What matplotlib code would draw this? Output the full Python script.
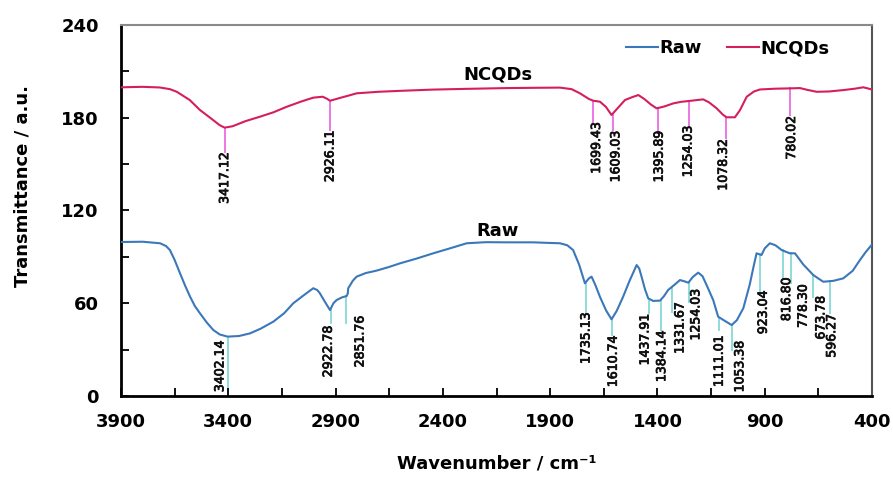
import matplotlib
matplotlib.use("Agg")
import matplotlib.pyplot as plt
import matplotlib.patheffects as pe
import numpy as np

ncqd_wn = [3900, 3800, 3720, 3672, 3640, 3580, 3532, 3480, 3440, 3417, 3380, 3320,
           3252, 3190, 3128, 3060, 3004, 2960, 2940, 2926, 2900, 2870, 2848, 2802,
           2700, 2600, 2450, 2289, 2100, 1950, 1854, 1800, 1761, 1720, 1699, 1668,
           1640, 1614, 1590, 1551, 1520, 1489, 1460, 1430, 1404, 1370, 1326, 1290,
           1256, 1187, 1160, 1124, 1095, 1078, 1039, 1015, 984, 950, 922, 850, 783,
           736, 700, 658, 600, 534, 480, 441, 420, 402]
ncqd_t = [199.7, 200.0, 199.6, 198.5, 196.8, 191.5, 185.0, 179.5, 175.2, 173.6, 174.5, 177.8,
          180.7, 183.5, 187.1, 190.5, 193.0, 193.6, 192.3, 191.0, 192.0, 193.2, 194.0, 195.8,
          196.8, 197.4, 198.2, 198.7, 199.2, 199.4, 199.5, 198.5, 195.8, 192.2, 191.0, 190.4,
          187.0, 181.8, 185.5, 191.5, 193.2, 194.7, 192.0, 188.5, 186.1, 187.2, 189.3, 190.3,
          190.8, 191.9, 190.0, 186.1, 182.0, 180.3, 180.3, 185.0, 193.6, 197.0, 198.3, 198.8, 199.0,
          199.2, 198.0, 196.8, 197.0, 197.9, 198.8, 199.7, 199.0, 198.3]

raw_wn = [3900, 3800, 3718, 3690, 3672, 3650, 3625, 3600, 3578, 3555, 3532, 3500,
          3470, 3440, 3403, 3350, 3299, 3250, 3190, 3140, 3097, 3050, 3004, 2985,
          2973, 2950, 2926, 2910, 2895, 2870, 2848, 2843, 2841, 2820, 2802, 2760,
          2709, 2650, 2600, 2520, 2445, 2360, 2289, 2200, 2100, 1979, 1900, 1854,
          1820, 1793, 1765, 1738, 1720, 1707, 1690, 1668, 1640, 1614, 1590, 1560,
          1530, 1497, 1485, 1474, 1458, 1443, 1420, 1388, 1370, 1350, 1320, 1295,
          1270, 1256, 1235, 1210, 1190, 1171, 1140, 1117, 1085, 1054, 1030, 1000,
          970, 950, 938, 915, 900, 876, 850, 821, 805, 783, 759, 720, 674, 650,
          627, 580, 534, 490, 456, 430, 402]
raw_t = [99.6, 99.8, 98.8, 97.0, 94.4, 88.0, 79.4, 71.0, 64.2, 58.0, 53.5, 47.5,
         42.7, 39.8, 38.4, 38.8, 40.5, 43.5, 48.1, 53.5, 60.0, 65.0, 69.7, 68.5,
         66.4, 61.0, 55.6, 60.0, 62.1, 63.8, 64.7, 66.5, 69.7, 74.5, 77.2, 79.5,
         81.1, 83.5, 85.8, 89.0, 92.3, 95.8, 98.8, 99.5, 99.4, 99.4, 99.0, 98.8,
         97.5, 94.4, 85.0, 72.9, 76.0, 77.2, 72.0, 64.2, 55.5, 49.6, 55.0, 64.2,
         74.5, 84.7, 82.5, 77.2, 69.0, 63.2, 61.5, 61.7, 64.5, 68.6, 72.0, 75.0,
         74.0, 73.3, 77.0, 79.8, 77.5, 71.8, 62.0, 51.3, 48.5, 45.9, 49.0, 56.7,
         72.0, 85.0, 92.3, 91.2, 95.5, 98.8, 97.5, 94.4, 93.5, 92.3, 92.3, 85.0, 78.3, 76.0,
         73.9, 74.5, 76.1, 81.0, 88.0, 93.0, 97.7]

ncqd_peaks = [3417.12, 2926.11, 1699.43, 1609.03, 1395.89, 1254.03, 1078.32, 780.02]
raw_peaks = [3402.14, 2922.78, 2851.76, 1735.13, 1610.74, 1437.91, 1384.14, 1331.67,
             1254.03, 1111.01, 1053.38, 923.04, 816.80, 778.30, 673.78, 596.27]

x_ticks = [3900, 3400, 2900, 2400, 1900, 1400, 900, 400]

# where the peak labels sit (x in cm-1, top of text in y units)
ncqd_lab_x = [3417, 2926, 1684, 1594, 1392, 1257, 1093, 775]
ncqd_lab_top = [158, 172, 177.4, 172, 172, 175.3, 166.7, 181.8]
raw_lab_x = [3439, 2934, 2786, 1733, 1606, 1458, 1380, 1295, 1221, 1112, 1016, 907, 798, 721, 638, 588]
raw_lab_top = [36.2, 45.9, 52.4, 54.5, 39.5, 53.5, 42.7, 61, 69.7, 39.5, 36.2, 68.6, 77.2, 72.9, 65.3, 53.5]
raw_line_end = [4, 47, 47, 54.5, 39.5, 53.5, 42.7, 54.5, 61, 42.7, 29.8, 67.5, 76, 72.9, 64.2, 53.5]

raw_color = "#3b78b9"
ncqd_color = "#d41f5c"

fig = plt.figure(figsize=(8.93, 4.79), dpi=100)
ax = fig.add_axes([0.1355, 0.1733, 0.841, 0.7745])

# peak marker lines and labels
def peak_labels(peaks, wn, t, lab_x, lab_top, line_end, color):
    for p, lx, top, le in zip(peaks, lab_x, lab_top, line_end):
        yc = np.interp(p, wn[::-1], t[::-1])
        ax.plot([p, p], [yc, le], color=color, lw=1.4, zorder=1)
        ax.text(lx, top - 0.5, f"{p:.2f}", rotation=90, ha="center", va="top",
                fontsize=9, family="DejaVu Sans", color="#111111",
                path_effects=[pe.withStroke(linewidth=0.6, foreground="#111111")])

peak_labels(ncqd_peaks, ncqd_wn, ncqd_t, ncqd_lab_x, ncqd_lab_top, ncqd_lab_top, "#ee77e6")
peak_labels(raw_peaks, raw_wn, raw_t, raw_lab_x, raw_lab_top, raw_line_end, "#8fdcdc")

ax.plot(raw_wn, raw_t, color=raw_color, lw=1.5, label="Raw", zorder=3)
ax.plot(ncqd_wn, ncqd_t, color=ncqd_color, lw=1.5, label="NCQDs", zorder=3)

ax.text(2143, 208.3, "NCQDs", ha="center", va="center", fontsize=13, fontweight="bold")
ax.text(2146, 106.7, "Raw", ha="center", va="center", fontsize=13, fontweight="bold")

ax.set_xlim(3900, 400)
ax.set_ylim(0, 240)
ax.set_xticks(x_ticks)
ax.set_xticks(np.array(x_ticks[:-1]) - 250, minor=True)
ax.set_yticks(np.arange(0, 241, 60))
ax.set_yticks(np.arange(30, 240, 60), minor=True)
ax.tick_params(which="both", direction="in", length=6, width=1.3, top=False, right=False,
               labelsize=13)
ax.tick_params(axis="x", pad=12)
ax.tick_params(axis="y", pad=16)
for lab in ax.get_xticklabels() + ax.get_yticklabels():
    lab.set_fontweight("bold")

ax.spines["left"].set_linewidth(2)
ax.spines["bottom"].set_linewidth(2)
ax.spines["top"].set_color("#8a8a8a")
ax.spines["top"].set_linewidth(1.5)
ax.spines["right"].set_color("#555555")
ax.spines["right"].set_linewidth(1.5)

ax.set_xlabel("Wavenumber / cm\u207b\u00b9", fontsize=13, fontweight="bold", labelpad=17)
ax.set_ylabel("Transmittance / a.u.", fontsize=13, fontweight="bold")
ax.yaxis.set_label_coords(-0.119, 0.566)

leg = ax.legend(loc="upper right", bbox_to_anchor=(0.965, 1.005), ncol=2, frameon=False,
                fontsize=13, handlelength=1.8, handletextpad=0.05, columnspacing=1.4)
for t in leg.get_texts():
    t.set_fontweight("bold")
for h in leg.get_lines():
    h.set_linewidth(1.5)

fig.savefig("out.png", dpi=100)
